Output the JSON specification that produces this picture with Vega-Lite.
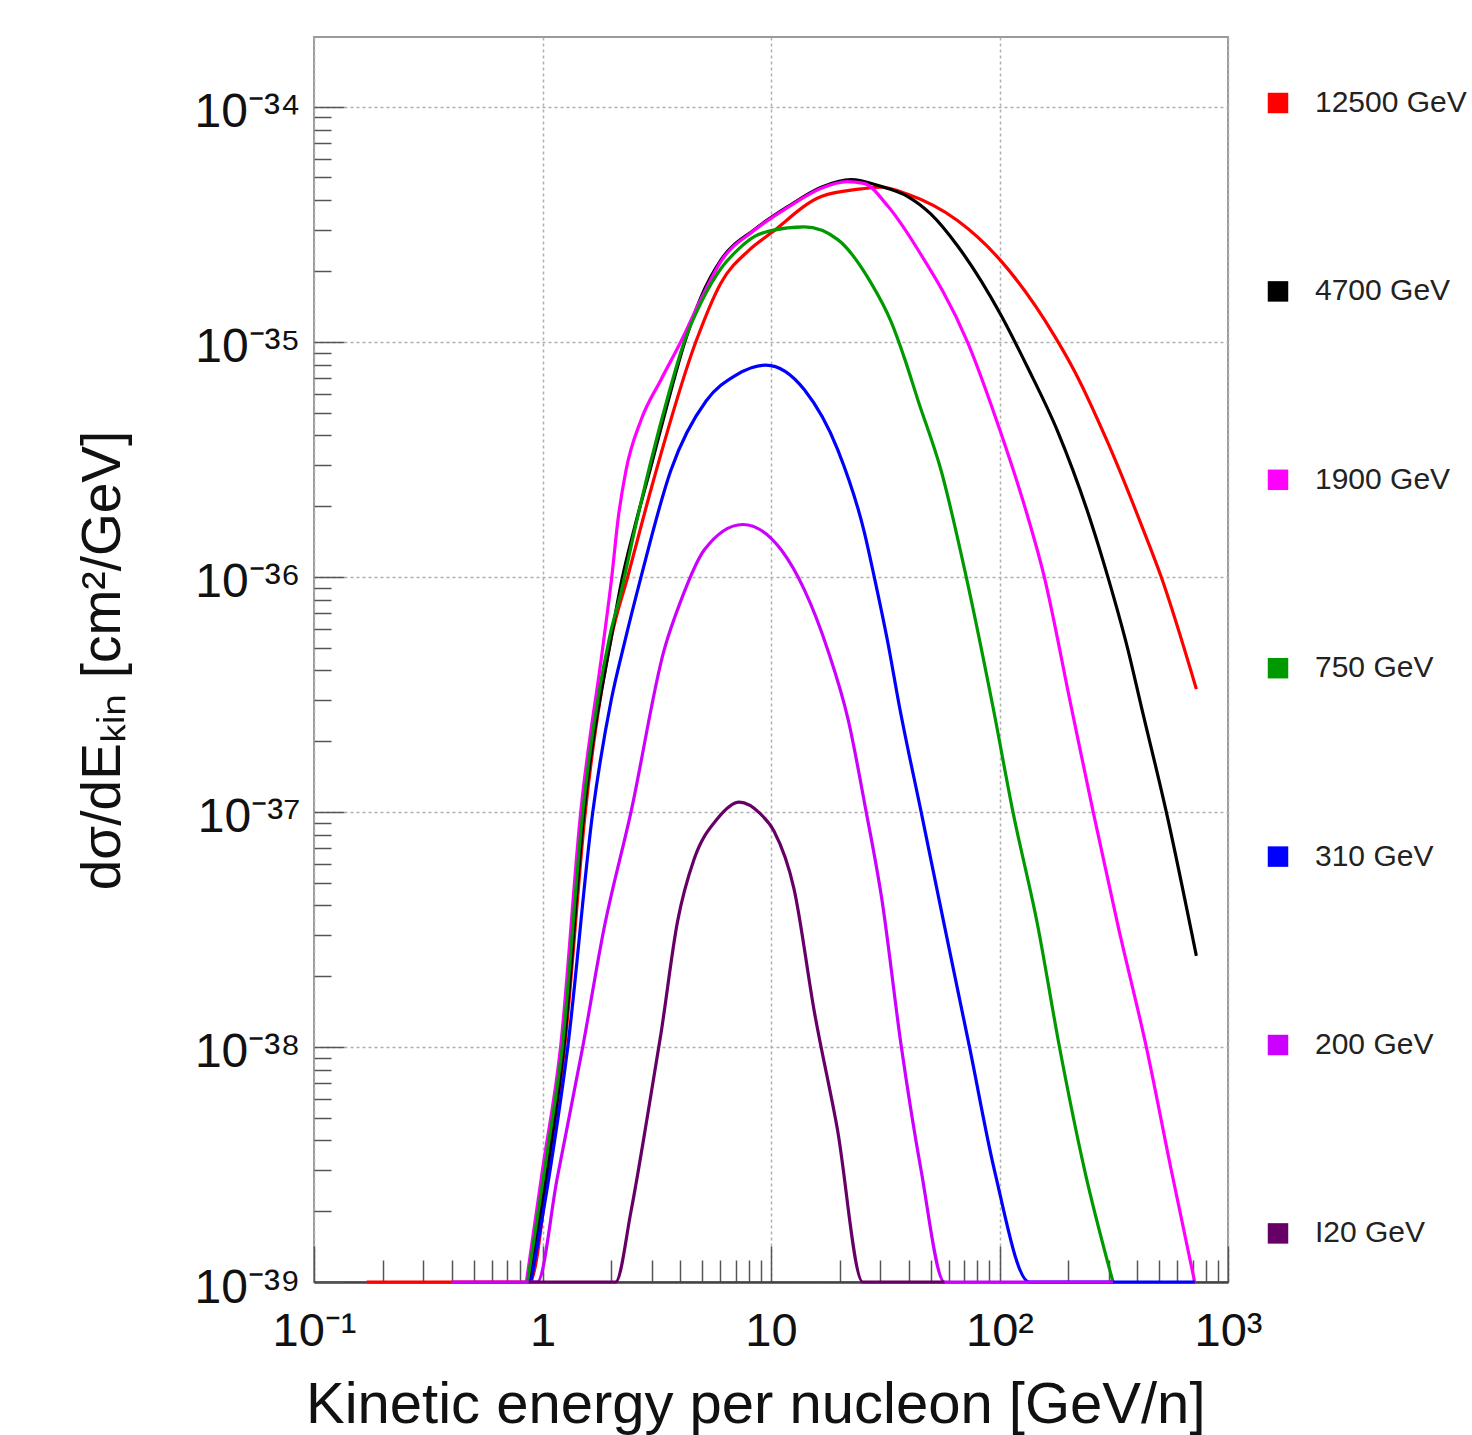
{
  "$schema": "https://vega.github.io/schema/vega-lite/v6.json",
  "width": 914,
  "height": 1245,
  "autosize": {"type": "none"},
  "padding": {"left": 314, "top": 37, "right": 244, "bottom": 153},
  "background": "white",
  "config": {"font": "Liberation Sans", "view": {"stroke": "#9a9a9a", "strokeWidth": 2}},
  "data": {"values": [
    {"E": 0.17, "s": 1e-39, "c": "12500 GeV"}, {"E": 0.88, "s": 1e-39, "c": "12500 GeV"}, {"E": 1.07, "s": 3.2e-39, "c": "12500 GeV"}, {"E": 1.25, "s": 1e-38, "c": "12500 GeV"}, {"E": 1.54, "s": 1e-37, "c": "12500 GeV"}, {"E": 2.0, "s": 5.5e-37, "c": "12500 GeV"}, {"E": 2.36, "s": 1e-36, "c": "12500 GeV"}, {"E": 3.0, "s": 2.4e-36, "c": "12500 GeV"}, {"E": 4.69, "s": 1e-35, "c": "12500 GeV"}, {"E": 6.04, "s": 1.78e-35, "c": "12500 GeV"}, {"E": 8.0, "s": 2.45e-35, "c": "12500 GeV"}, {"E": 10, "s": 2.9e-35, "c": "12500 GeV"}, {"E": 16.6, "s": 4.15e-35, "c": "12500 GeV"}, {"E": 24.8, "s": 4.47e-35, "c": "12500 GeV"}, {"E": 30, "s": 4.55e-35, "c": "12500 GeV"}, {"E": 39.7, "s": 4.24e-35, "c": "12500 GeV"}, {"E": 65.7, "s": 3.27e-35, "c": "12500 GeV"}, {"E": 101, "s": 2.22e-35, "c": "12500 GeV"}, {"E": 174, "s": 1.06e-35, "c": "12500 GeV"}, {"E": 213, "s": 7.5e-36, "c": "12500 GeV"}, {"E": 298, "s": 3.72e-36, "c": "12500 GeV"}, {"E": 418, "s": 1.66e-36, "c": "12500 GeV"}, {"E": 510, "s": 1e-36, "c": "12500 GeV"}, {"E": 727, "s": 3.33e-37, "c": "12500 GeV"},

    {"E": 0.87, "s": 1e-39, "c": "4700 GeV"}, {"E": 1.07, "s": 3.4e-39, "c": "4700 GeV"}, {"E": 1.24, "s": 1e-38, "c": "4700 GeV"}, {"E": 1.52, "s": 1e-37, "c": "4700 GeV"}, {"E": 1.99, "s": 5.4e-37, "c": "4700 GeV"}, {"E": 2.24, "s": 1e-36, "c": "4700 GeV"}, {"E": 2.52, "s": 1.6e-36, "c": "4700 GeV"}, {"E": 2.98, "s": 2.94e-36, "c": "4700 GeV"}, {"E": 3.53, "s": 5.5e-36, "c": "4700 GeV"}, {"E": 4.17, "s": 9.8e-36, "c": "4700 GeV"}, {"E": 4.94, "s": 1.55e-35, "c": "4700 GeV"}, {"E": 6.04, "s": 2.23e-35, "c": "4700 GeV"}, {"E": 8.45, "s": 3.0e-35, "c": "4700 GeV"}, {"E": 11.8, "s": 3.75e-35, "c": "4700 GeV"}, {"E": 16.6, "s": 4.55e-35, "c": "4700 GeV"}, {"E": 22.4, "s": 4.9e-35, "c": "4700 GeV"}, {"E": 30, "s": 4.6e-35, "c": "4700 GeV"}, {"E": 39.7, "s": 4.15e-35, "c": "4700 GeV"}, {"E": 50, "s": 3.5e-35, "c": "4700 GeV"}, {"E": 65.7, "s": 2.55e-35, "c": "4700 GeV"}, {"E": 101, "s": 1.31e-35, "c": "4700 GeV"}, {"E": 133, "s": 7.75e-36, "c": "4700 GeV"}, {"E": 180, "s": 4.14e-36, "c": "4700 GeV"}, {"E": 252, "s": 1.7e-36, "c": "4700 GeV"}, {"E": 298, "s": 1e-36, "c": "4700 GeV"}, {"E": 365, "s": 4.89e-37, "c": "4700 GeV"}, {"E": 418, "s": 2.79e-37, "c": "4700 GeV"}, {"E": 537, "s": 1e-37, "c": "4700 GeV"}, {"E": 727, "s": 2.44e-38, "c": "4700 GeV"},

    {"E": 0.85, "s": 1e-39, "c": "1900 GeV"}, {"E": 1.0, "s": 3e-39, "c": "1900 GeV"}, {"E": 1.2, "s": 1e-38, "c": "1900 GeV"}, {"E": 1.47, "s": 1e-37, "c": "1900 GeV"}, {"E": 1.83, "s": 4.9e-37, "c": "1900 GeV"}, {"E": 2.01, "s": 1e-36, "c": "1900 GeV"}, {"E": 2.14, "s": 1.75e-36, "c": "1900 GeV"}, {"E": 2.32, "s": 2.84e-36, "c": "1900 GeV"}, {"E": 2.7, "s": 4.65e-36, "c": "1900 GeV"}, {"E": 3.3, "s": 6.9e-36, "c": "1900 GeV"}, {"E": 4.03, "s": 1.0e-35, "c": "1900 GeV"}, {"E": 4.94, "s": 1.52e-35, "c": "1900 GeV"}, {"E": 6.04, "s": 2.2e-35, "c": "1900 GeV"}, {"E": 8.45, "s": 2.98e-35, "c": "1900 GeV"}, {"E": 11.8, "s": 3.72e-35, "c": "1900 GeV"}, {"E": 16.6, "s": 4.5e-35, "c": "1900 GeV"}, {"E": 21.5, "s": 4.8e-35, "c": "1900 GeV"}, {"E": 25.5, "s": 4.72e-35, "c": "1900 GeV"}, {"E": 32.5, "s": 3.77e-35, "c": "1900 GeV"}, {"E": 43.9, "s": 2.47e-35, "c": "1900 GeV"}, {"E": 72.7, "s": 9.9e-36, "c": "1900 GeV"}, {"E": 101, "s": 4.14e-36, "c": "1900 GeV"}, {"E": 129, "s": 1.99e-36, "c": "1900 GeV"}, {"E": 157, "s": 1e-36, "c": "1900 GeV"}, {"E": 206, "s": 2.8e-37, "c": "1900 GeV"}, {"E": 257, "s": 1e-37, "c": "1900 GeV"}, {"E": 330, "s": 3.28e-38, "c": "1900 GeV"}, {"E": 439, "s": 1e-38, "c": "1900 GeV"}, {"E": 565, "s": 2.98e-39, "c": "1900 GeV"}, {"E": 715, "s": 1e-39, "c": "1900 GeV"},

    {"E": 0.86, "s": 1e-39, "c": "750 GeV"}, {"E": 1.05, "s": 3.6e-39, "c": "750 GeV"}, {"E": 1.22, "s": 1e-38, "c": "750 GeV"}, {"E": 1.5, "s": 1e-37, "c": "750 GeV"}, {"E": 1.97, "s": 5.6e-37, "c": "750 GeV"}, {"E": 2.2, "s": 8.5e-37, "c": "750 GeV"}, {"E": 2.52, "s": 1.55e-36, "c": "750 GeV"}, {"E": 2.98, "s": 3.1e-36, "c": "750 GeV"}, {"E": 3.53, "s": 5.8e-36, "c": "750 GeV"}, {"E": 4.17, "s": 1e-35, "c": "750 GeV"}, {"E": 5.0, "s": 1.5e-35, "c": "750 GeV"}, {"E": 6.04, "s": 2.05e-35, "c": "750 GeV"}, {"E": 7.15, "s": 2.46e-35, "c": "750 GeV"}, {"E": 8.45, "s": 2.8e-35, "c": "750 GeV"}, {"E": 10, "s": 2.97e-35, "c": "750 GeV"}, {"E": 14, "s": 3.08e-35, "c": "750 GeV"}, {"E": 19.6, "s": 2.72e-35, "c": "750 GeV"}, {"E": 27.4, "s": 1.78e-35, "c": "750 GeV"}, {"E": 33.5, "s": 1.22e-35, "c": "750 GeV"}, {"E": 38.4, "s": 8.5e-36, "c": "750 GeV"}, {"E": 43.9, "s": 5.67e-36, "c": "750 GeV"}, {"E": 55.6, "s": 2.82e-36, "c": "750 GeV"}, {"E": 71.5, "s": 1e-36, "c": "750 GeV"}, {"E": 93.6, "s": 2.8e-37, "c": "750 GeV"}, {"E": 114.5, "s": 1e-37, "c": "750 GeV"}, {"E": 147, "s": 3.28e-38, "c": "750 GeV"}, {"E": 183, "s": 1e-38, "c": "750 GeV"}, {"E": 236, "s": 2.98e-39, "c": "750 GeV"}, {"E": 314, "s": 1e-39, "c": "750 GeV"},

    {"E": 0.89, "s": 1e-39, "c": "310 GeV"}, {"E": 1.08, "s": 3e-39, "c": "310 GeV"}, {"E": 1.29, "s": 1e-38, "c": "310 GeV"}, {"E": 1.66, "s": 1e-37, "c": "310 GeV"}, {"E": 2.0, "s": 3e-37, "c": "310 GeV"}, {"E": 2.28, "s": 5.2e-37, "c": "310 GeV"}, {"E": 2.7, "s": 1e-36, "c": "310 GeV"}, {"E": 3.65, "s": 2.85e-36, "c": "310 GeV"}, {"E": 5.2, "s": 5.6e-36, "c": "310 GeV"}, {"E": 7.0, "s": 7.2e-36, "c": "310 GeV"}, {"E": 9.5, "s": 7.96e-36, "c": "310 GeV"}, {"E": 14.0, "s": 6.25e-36, "c": "310 GeV"}, {"E": 19.6, "s": 3.47e-36, "c": "310 GeV"}, {"E": 25.6, "s": 1.55e-36, "c": "310 GeV"}, {"E": 28.3, "s": 1e-36, "c": "310 GeV"}, {"E": 32.5, "s": 5.22e-37, "c": "310 GeV"}, {"E": 36.5, "s": 2.8e-37, "c": "310 GeV"}, {"E": 45.4, "s": 1e-37, "c": "310 GeV"}, {"E": 57.4, "s": 3.28e-38, "c": "310 GeV"}, {"E": 73.9, "s": 1e-38, "c": "310 GeV"}, {"E": 95.1, "s": 2.98e-39, "c": "310 GeV"}, {"E": 135, "s": 1e-39, "c": "310 GeV"}, {"E": 715, "s": 1e-39, "c": "310 GeV"},

    {"E": 0.4, "s": 1e-39, "c": "200 GeV"}, {"E": 0.95, "s": 1e-39, "c": "200 GeV"}, {"E": 1.16, "s": 2.77e-39, "c": "200 GeV"}, {"E": 1.5, "s": 1e-38, "c": "200 GeV"}, {"E": 1.86, "s": 3.2e-38, "c": "200 GeV"}, {"E": 2.44, "s": 1e-37, "c": "200 GeV"}, {"E": 3.41, "s": 4.9e-37, "c": "200 GeV"}, {"E": 4.03, "s": 7.9e-37, "c": "200 GeV"}, {"E": 5.1, "s": 1.3e-36, "c": "200 GeV"}, {"E": 7.52, "s": 1.67e-36, "c": "200 GeV"}, {"E": 11.1, "s": 1.3e-36, "c": "200 GeV"}, {"E": 14.0, "s": 8.8e-37, "c": "200 GeV"}, {"E": 17.7, "s": 4.9e-37, "c": "200 GeV"}, {"E": 21.8, "s": 2.45e-37, "c": "200 GeV"}, {"E": 26.0, "s": 1.02e-37, "c": "200 GeV"}, {"E": 30.5, "s": 4.3e-38, "c": "200 GeV"}, {"E": 37.2, "s": 1e-38, "c": "200 GeV"}, {"E": 45.4, "s": 2.98e-39, "c": "200 GeV"}, {"E": 57.4, "s": 1e-39, "c": "200 GeV"}, {"E": 314, "s": 1e-39, "c": "200 GeV"},

    {"E": 0.87, "s": 1e-39, "c": "I20 GeV"}, {"E": 2.09, "s": 1e-39, "c": "I20 GeV"}, {"E": 2.44, "s": 2e-39, "c": "I20 GeV"}, {"E": 2.88, "s": 5.08e-39, "c": "I20 GeV"}, {"E": 3.3, "s": 1.14e-38, "c": "I20 GeV"}, {"E": 3.9, "s": 3.42e-38, "c": "I20 GeV"}, {"E": 4.61, "s": 6.3e-38, "c": "I20 GeV"}, {"E": 5.8, "s": 9.3e-38, "c": "I20 GeV"}, {"E": 7.27, "s": 1.1e-37, "c": "I20 GeV"}, {"E": 9.0, "s": 9.8e-38, "c": "I20 GeV"}, {"E": 10.3, "s": 8.3e-38, "c": "I20 GeV"}, {"E": 12.6, "s": 4.72e-38, "c": "I20 GeV"}, {"E": 15.5, "s": 1.4e-38, "c": "I20 GeV"}, {"E": 19.5, "s": 4.5e-39, "c": "I20 GeV"}, {"E": 25.2, "s": 1e-39, "c": "I20 GeV"}, {"E": 57.4, "s": 1e-39, "c": "I20 GeV"}
  ]},
  "mark": {"type": "line", "strokeWidth": 3.2, "interpolate": "monotone"},
  "encoding": {
    "x": {
      "field": "E", "type": "quantitative",
      "scale": {"type": "log", "domain": [0.1, 1000], "nice": false},
      "axis": {
        "values": [0.1, 0.2, 0.3, 0.4, 0.5, 0.6, 0.7, 0.8, 0.9, 1, 2, 3, 4, 5, 6, 7, 8, 9, 10, 20, 30, 40, 50, 60, 70, 80, 90, 100, 200, 300, 400, 500, 600, 700, 800, 900, 1000],
        "labelExpr": "abs(log(datum.value)/LN10 - round(log(datum.value)/LN10)) > 0.01 ? '' : (round(log(datum.value)/LN10) == 0 ? '1' : round(log(datum.value)/LN10) == 1 ? '10' : round(log(datum.value)/LN10) == -1 ? '10⁻¹' : round(log(datum.value)/LN10) == 2 ? '10²' : '10³')",
        "labelOverlap": false, "labelFlush": false, "labelBound": false,
        "labelFontSize": 47, "labelColor": "#111", "labelPadding": 62,
        "tickSize": {"condition": {"test": "abs(log(datum.value)/LN10 - round(log(datum.value)/LN10)) < 0.01", "value": -36}, "value": -22},
        "tickColor": "#555", "tickWidth": 1.5,
        "grid": true, "gridColor": "#b0b0b0", "gridDash": [3, 3], "gridWidth": 1.5,
        "gridOpacity": {"condition": {"test": "abs(log(datum.value)/LN10 - round(log(datum.value)/LN10)) < 0.01", "value": 1}, "value": 0},
        "domain": true, "domainColor": "#444", "domainWidth": 2.5,
        "title": "Kinetic energy per nucleon [GeV/n]", "titleFontSize": 58, "titleFontWeight": "normal", "titleColor": "#111",
        "titleX": 891, "titleY": 140, "titleAlign": "right", "titleBaseline": "alphabetic"
      }
    },
    "y": {
      "field": "s", "type": "quantitative",
      "scale": {"type": "log", "domain": [1e-39, 1.98e-34], "nice": false},
      "axis": {
        "values": [1e-39, 2e-39, 3e-39, 4e-39, 5e-39, 6e-39, 7e-39, 8e-39, 9e-39, 1e-38, 2e-38, 3e-38, 4e-38, 5e-38, 6e-38, 7e-38, 8e-38, 9e-38, 1e-37, 2e-37, 3e-37, 4e-37, 5e-37, 6e-37, 7e-37, 8e-37, 9e-37, 1e-36, 2e-36, 3e-36, 4e-36, 5e-36, 6e-36, 7e-36, 8e-36, 9e-36, 1e-35, 2e-35, 3e-35, 4e-35, 5e-35, 6e-35, 7e-35, 8e-35, 9e-35, 1e-34],
        "labelExpr": "abs(log(datum.value)/LN10 - round(log(datum.value)/LN10)) > 0.01 ? '' : '10' + replace(replace(replace(replace(replace(replace(replace(replace('' + round(log(datum.value)/LN10), '-', '⁻'), '3', '³'), '4', '⁴'), '5', '⁵'), '6', '⁶'), '7', '⁷'), '8', '⁸'), '9', '⁹')",
        "labelOverlap": false, "labelFlush": false, "labelBound": false,
        "labelFontSize": 48, "labelColor": "#111", "labelPadding": 44, "labelOffset": 6,
        "tickSize": {"condition": {"test": "abs(log(datum.value)/LN10 - round(log(datum.value)/LN10)) < 0.01", "value": -30}, "value": -17},
        "tickColor": "#555", "tickWidth": 1.5,
        "grid": true, "gridColor": "#b0b0b0", "gridDash": [3, 3], "gridWidth": 1.5,
        "gridOpacity": {"condition": {"test": "abs(log(datum.value)/LN10 - round(log(datum.value)/LN10)) < 0.01", "value": 1}, "value": 0},
        "domain": false,
        "title": "dσ/dEₖᵢₙ [cm²/GeV]", "titleFontSize": 55, "titleFontWeight": "normal", "titleColor": "#111",
        "titleX": -212, "titleY": 623, "titleAngle": -90, "titleAlign": "center", "titleBaseline": "middle"
      }
    },
    "color": {
      "field": "c", "type": "nominal",
      "scale": {
        "domain": ["12500 GeV", "4700 GeV", "1900 GeV", "750 GeV", "310 GeV", "200 GeV", "I20 GeV"],
        "range": ["#ff0000", "#000000", "#ff00ff", "#009900", "#0000ff", "#cc00ff", "#660066"]
      },
      "legend": {
        "orient": "none", "legendX": 949, "legendY": 51, "title": null, "padding": 0,
        "labelFontSize": 30, "labelColor": "#222", "labelOffset": 22, "labelLimit": 400,
        "rowPadding": 158.4, "symbolSize": 420, "symbolType": "square", "symbolStrokeWidth": 0,
        "encode": {"symbols": {"update": {"fill": {"scale": "color", "field": "value"}, "fillOpacity": {"value": 1}, "strokeWidth": {"value": 0}}}}
      }
    }
  }
}
